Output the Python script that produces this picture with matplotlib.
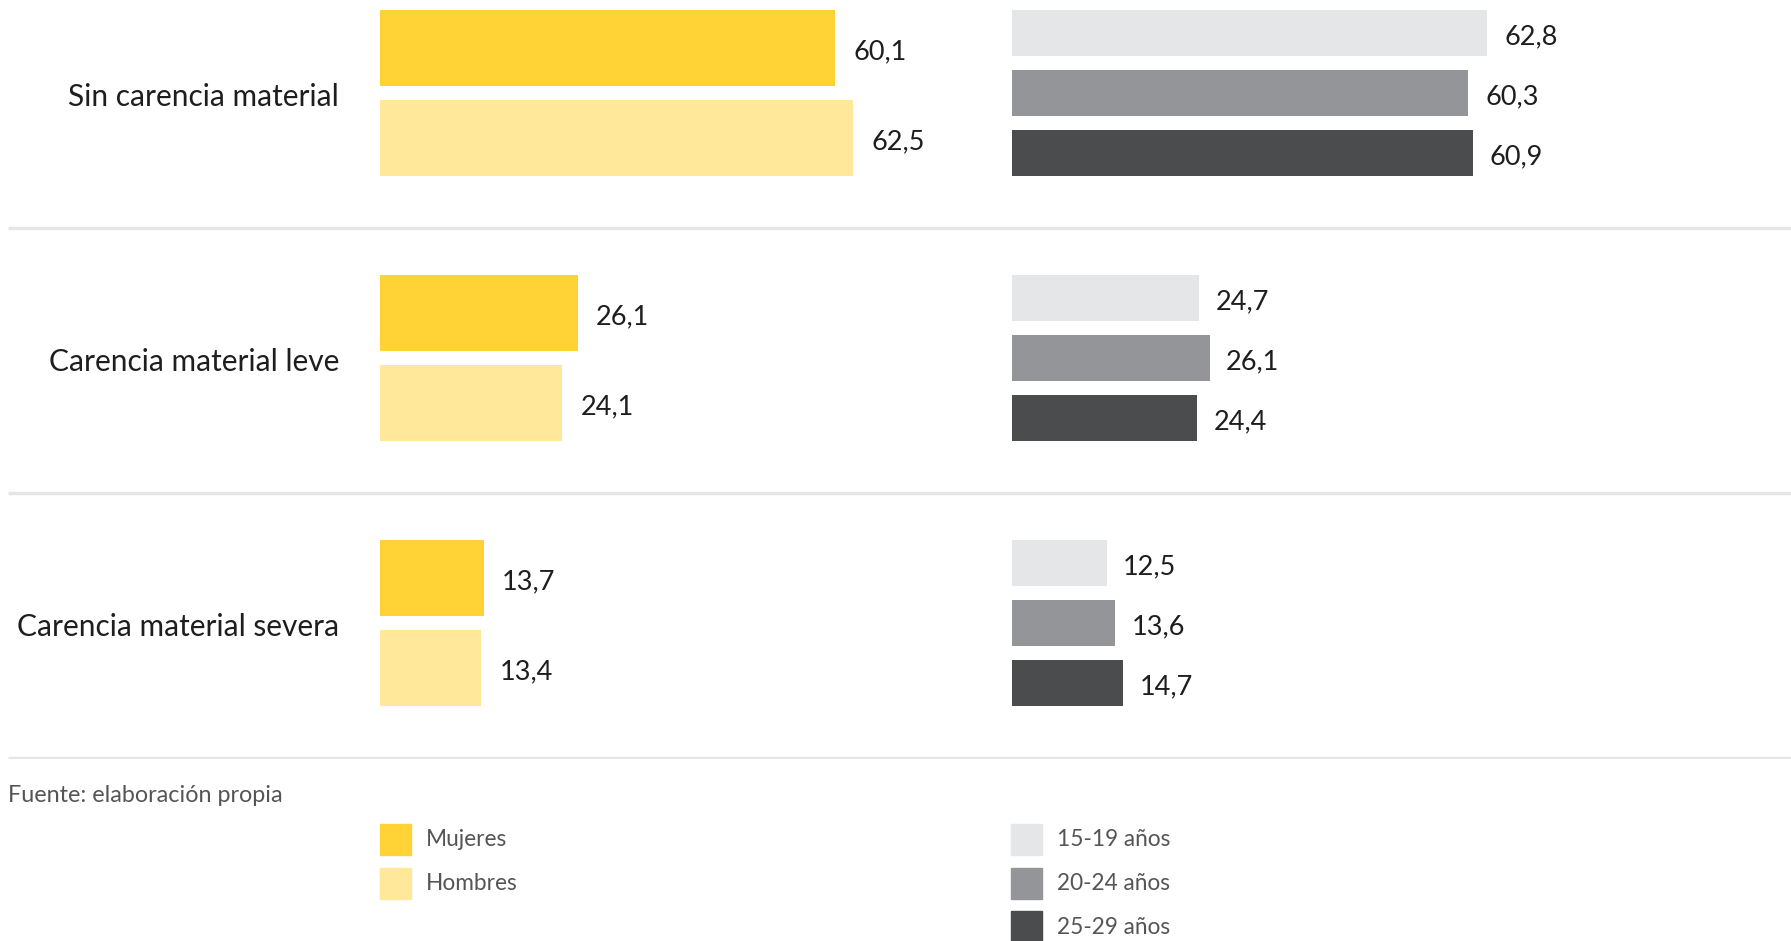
import numpy as np
import matplotlib.pyplot as plt
from matplotlib.patches import Rectangle

plt.rcParams['font.family'] = ['Lato', 'DejaVu Sans']

# ----------------------------
# Data
# ----------------------------
categories = ["Sin carencia material", "Carencia material leve", "Carencia material severa"]

sex_labels = ["Mujeres", "Hombres"]
mujeres = [60.1, 26.1, 13.7]
hombres = [62.5, 24.1, 13.4]

age_labels = ["15-19 años", "20-24 años", "25-29 años"]
age_15_19 = [62.8, 24.7, 12.5]
age_20_24 = [60.3, 26.1, 13.6]
age_25_29 = [60.9, 24.4, 14.7]

source = "Fuente: elaboración propia"

sex_colors = ["#FFD236", "#FFE89A"]
age_colors = ["#E5E6E8", "#949598", "#4B4C4E"]
text_color = "#1e1e1e"
note_color = "#555555"

def fmt(v):
    return f"{v:.1f}".replace(".", ",")

# ----------------------------
# Layout (pixels of a 1791x941 canvas)
# ----------------------------
W, H = 1791, 941
fig = plt.figure(figsize=(W / 100, H / 100), dpi=100)

chart_bottom = 758.5
y_top = -93 / 265
y_bot = (chart_bottom - 93) / 265
px_per_unit = 7.57

def add_axes_px(x0, x1):
    return fig.add_axes([x0 / W, 1 - chart_bottom / H, (x1 - x0) / W, chart_bottom / H])

ax_bg = add_axes_px(0, W)
ax_l = add_axes_px(380, 1000)
ax_r = add_axes_px(1012, W)

for a in (ax_bg, ax_l, ax_r):
    a.set_ylim(y_bot, y_top)
    a.axis("off")
    a.patch.set_alpha(0)

ax_bg.set_xlim(0, W)
ax_l.set_xlim(0, 620 / px_per_unit)
ax_r.set_xlim(0, (W - 1012) / px_per_unit)

y = np.arange(len(categories))

# separators + category labels
for i, cat in enumerate(categories):
    ax_bg.plot([8, W], [i + 0.511, i + 0.511], color="#E6E6E6", lw=2.5, solid_capstyle="butt")
    ax_bg.annotate(cat, (339, i), xytext=(0, -3.2), textcoords="offset points",
                   ha="right", va="center", fontsize=21.5, color=text_color)

# left panel: sex
sex_h = 76 / 265
sex_off = [-45 / 265, 45 / 265]
for vals, off, col in zip([mujeres, hombres], sex_off, sex_colors):
    bars = ax_l.barh(y + off, vals, height=sex_h, color=col)
    for b, v in zip(bars, vals):
        ax_l.annotate(fmt(v), (v, b.get_y() + b.get_height() / 2), xytext=(13, -3),
                      textcoords="offset points", ha="left", va="center",
                      fontsize=19.5, color=text_color)

# right panel: age
age_h = 46 / 265
age_off = [-60 / 265, 0, 60 / 265]
for vals, off, col in zip([age_15_19, age_20_24, age_25_29], age_off, age_colors):
    bars = ax_r.barh(y + off, vals, height=age_h, color=col)
    for b, v in zip(bars, vals):
        ax_r.annotate(fmt(v), (v, b.get_y() + b.get_height() / 2), xytext=(12, -2.5),
                      textcoords="offset points", ha="left", va="center",
                      fontsize=19.5, color=text_color)

# ----------------------------
# Source + legend
# ----------------------------
ax_leg = fig.add_axes([0, 0, 1, 1 - chart_bottom / H])
ax_leg.set_xlim(0, W)
ax_leg.set_ylim(H, chart_bottom)
ax_leg.axis("off")
ax_leg.patch.set_alpha(0)

ax_leg.text(8, 795, source, ha="left", va="center", fontsize=16.8, color=note_color)

row_step = 43.5
for x0, labels, colors in [(380, sex_labels, sex_colors), (1011, age_labels, age_colors)]:
    for k, (lab, col) in enumerate(zip(labels, colors)):
        top = 824 + k * row_step
        ax_leg.add_patch(Rectangle((x0, top), 31, 31, color=col, clip_on=False))
        ax_leg.text(x0 + 46, top + 16, lab, ha="left", va="center",
                    fontsize=16.3, color=note_color)

fig.savefig("out.png", dpi=100)
